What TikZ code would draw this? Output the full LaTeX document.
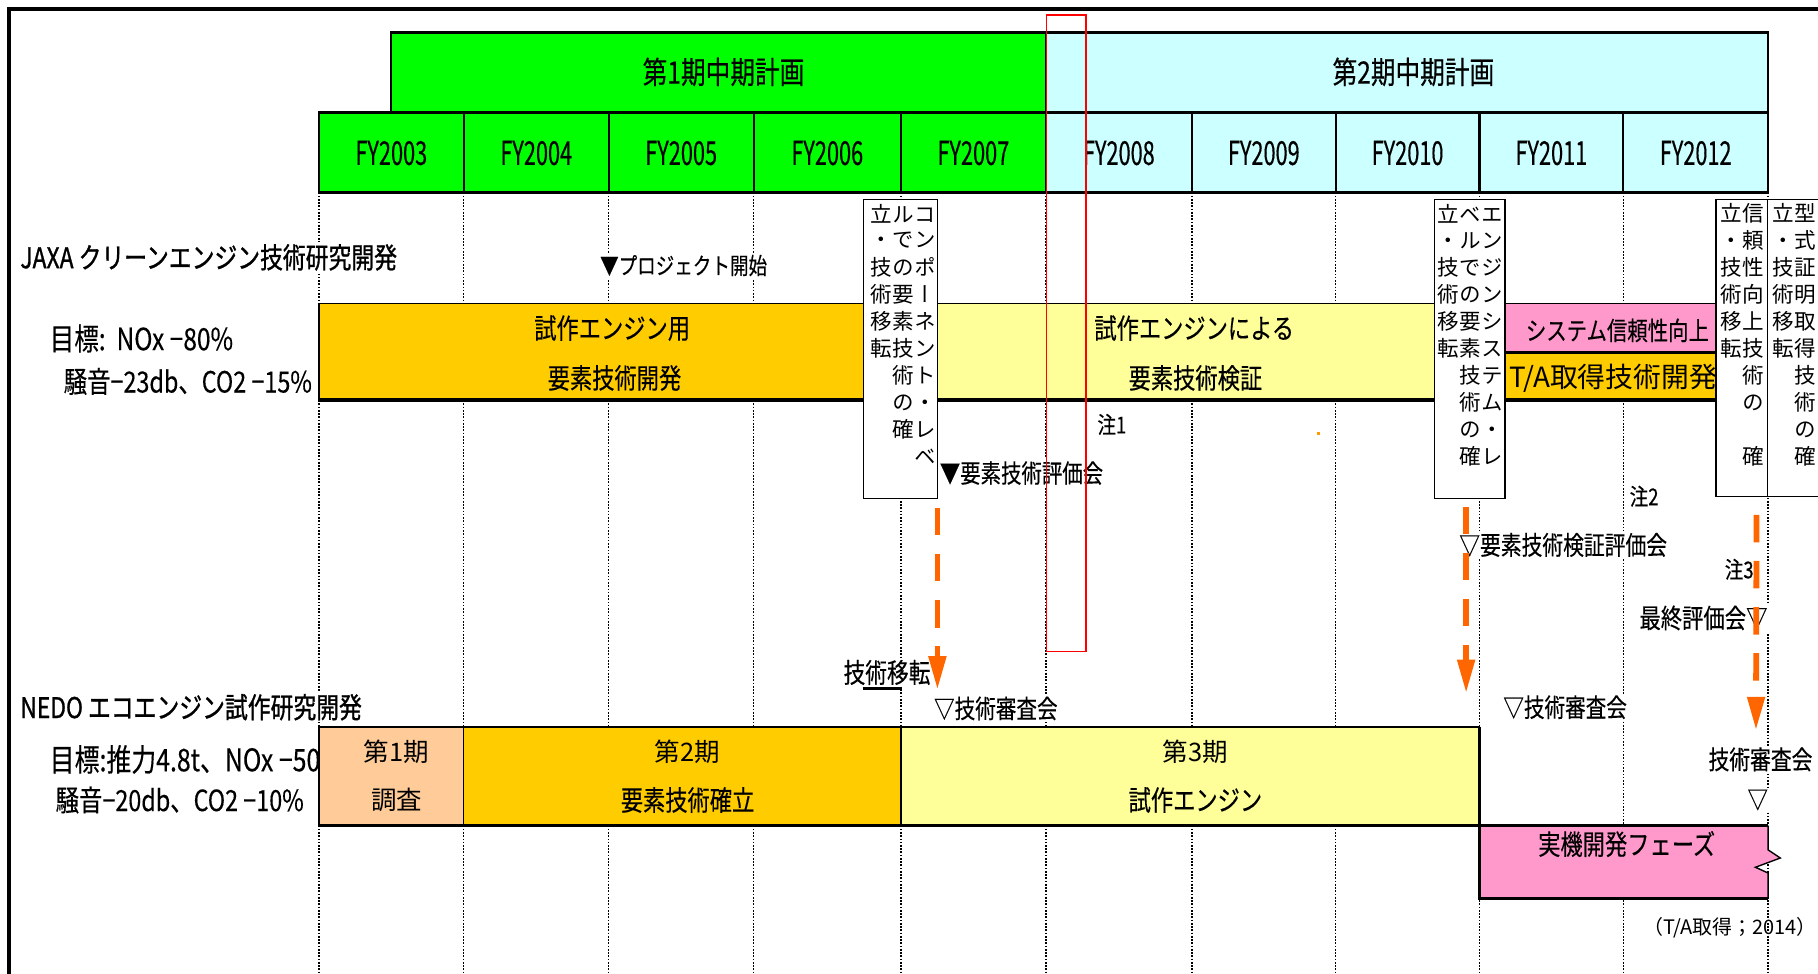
\documentclass[tikz,border=0pt]{standalone}
\usepackage{fontspec}
\newfontfamily\jc[FakeStretch=0.8,FakeBold=0.3]{Noto Sans CJK JP}
\newfontfamily\jcc[FakeStretch=0.66,FakeBold=0.3]{Noto Sans CJK JP}
\newfontfamily\jcb[FakeStretch=0.8,FakeBold=1.0]{Noto Sans CJK JP}
\newfontfamily\jn{Noto Sans CJK JP}
\newfontfamily\jv[RawFeature={+vert}]{Noto Sans CJK JP}
\usetikzlibrary{arrows.meta}
\newcommand\fsz[1]{\fontsize{#1}{#1}\selectfont}
\definecolor{cgreen}{HTML}{00FF00}
\definecolor{ccyan}{HTML}{CCFFFF}
\definecolor{corange}{HTML}{FFCC00}
\definecolor{cyellow}{HTML}{FFFF99}
\definecolor{cpink}{HTML}{FF99CC}
\definecolor{cpeach}{HTML}{FFCC99}
\definecolor{carrow}{HTML}{FF6600}
\definecolor{cdot}{HTML}{FF9900}
\definecolor{cred}{HTML}{FF0000}
\begin{document}
\begin{tikzpicture}[x=0.5pt,y=-0.5pt,
  every node/.style={inner sep=0pt,outer sep=0pt},
  lab/.style={fill=white,inner sep=0.8pt},
  btx/.style={font=\jc\fsz{12}},
  ptx/.style={font=\jn\fsz{11}},
  fy/.style={font=\jcc\fsz{14.2}},
  vtx/.style={font=\jv\fsz{9.3},anchor=east},
  vbox/.style={draw=black,fill=white,line width=0.6pt},
  gridl/.style={line width=0.6pt,dash pattern=on 0.7pt off 0.7pt},
  hl/.style={line width=0.9pt},
  tl/.style={line width=0.6pt},
  tk/.style={line width=1.5pt},
  arr/.style={draw=carrow,line width=2.5pt,dash pattern=on 11.85pt off 8.05pt,-{Triangle[length=14.5pt,width=7.2pt]}}
]
\useasboundingbox (0,0) rectangle (1568,840);
\clip (0,0) rectangle (1568,840);

% dotted year grid
\foreach \gx in {275,400,525,650,777,902,1028,1152,1276,1400,1525}
  \draw[gridl] (\gx,166) -- (\gx,840);

% period header
\draw[hl,fill=cgreen] (337,28) rectangle (902,97);
\draw[hl,fill=ccyan] (902,28) rectangle (1525,97);
\node[font=\jc\fsz{13.3}] (p1) at (624,62) {第1期中期計画};
\node[font=\jc\fsz{13.3}] (p2) at (1219,62) {第2期中期計画};

% fiscal years
\foreach \a/\b/\yr/\cc in {275/400/2003/cgreen,400/525/2004/cgreen,525/650/2005/cgreen,650/777/2006/cgreen,777/902/2007/cgreen,902/1028/2008/ccyan,1028/1152/2009/ccyan,1152/1276/2010/ccyan,1276/1400/2011/ccyan,1400/1525/2012/ccyan}{
  \draw[hl,fill=\cc] (\a,97) rectangle (\b,166);
  \node[fy] (fy\yr) at ({(\a+\b)/2},132) {FY\yr};
}

% goal texts (partly hidden under bars)
\node[anchor=west,font=\jc\fsz{13.2}] (jg1) at (43,292) {目標:\ \ NOx −80\%};
\node[anchor=west,font=\jc\fsz{12.6}] (jg2) at (55,329) {騒音−23db、CO2 −15\%};
\node[anchor=west,font=\jc\fsz{13.4}] (ng1) at (43,655) {目標:推力4.8t、NOx −50\%};
\node[anchor=west,font=\jc\fsz{12.6}] (ng2) at (48,690) {騒音−20db、CO2 −10\%};

% JAXA bars
\fill[corange] (275,262) rectangle (777,345);
\fill[cyellow] (777,262) rectangle (1298,345);
\fill[cpink] (1298,262) rectangle (1480,304);
\fill[corange] (1298,304) rectangle (1480,345);
\draw[tl] (275,345) -- (275,262) -- (1480,262);
\draw[line width=1.1pt] (1298,304) -- (1480,304);
\draw[tk] (275,345) -- (1480,345);
\node[btx] (j1a) at (528,283) {試作エンジン用};
\node[btx] (j1b) at (530,326) {要素技術開発};
\node[btx] (j2a) at (1030,283) {試作エンジンによる};
\node[btx] (j2b) at (1031,326) {要素技術検証};
\node[font=\jc\fsz{11}] (j3) at (1395,285) {システム信頼性向上};
\node[anchor=west,font=\jn\fsz{12}] (j4) at (1302,326) {T/A取得技術開発};

% NEDO bars
\fill[cpeach] (275,627) rectangle (400,712);
\fill[corange] (400,627) rectangle (777,712);
\fill[cyellow] (777,627) rectangle (1276,712);
\fill[cpink] (1276,712) -- (1525,712) -- (1525,733) -- (1535.5,740) -- (1514,748) -- (1525,753) -- (1525,775) -- (1276,775) -- cycle;
\draw[tl] (275,712) -- (275,627) -- (1276,627);
\draw[tl] (400,627) -- (400,712);
\draw[line width=1pt] (777,627) -- (777,712);
\draw[tl] (1525,712) -- (1525,733) -- (1535.5,740) -- (1514,748) -- (1525,753) -- (1525,775);
\draw[tk] (1276,627) -- (1276,775) -- (1525,775);
\draw[tk] (275,712) -- (1525,712);
\node[ptx] (b1a) at (342,648) {第1期};
\node[ptx] (b1b) at (342,690) {調査};
\node[ptx] (b2a) at (593,648) {第2期};
\node[btx] (b2b) at (593,690) {要素技術確立};
\node[ptx] (b3a) at (1031,648) {第3期};
\node[btx] (b3b) at (1031,690) {試作エンジン};
\node[btx] (b4) at (1403,728) {実機開発フェーズ};

% section titles and milestone labels
\node[lab,anchor=west,font=\jcb\fsz{12.3}] (jaxa) at (16,222) {JAXA クリーンエンジン技術研究開発};
\node[lab,anchor=west,font=\jcb\fsz{12.3}] (nedo) at (16,610) {NEDO エコエンジン試作研究開発};
\node[lab,anchor=west,font=\jc\fsz{10}] (pstart) at (516,229) {▼プロジェクト開始};
\node[lab,anchor=west,font=\jc\fsz{10}] (n1) at (945,366) {注1};
\fill[cdot] (1135.5,372.5) rectangle (1138.5,375.5);
\node[lab,anchor=west,font=\jc\fsz{11}] (ev1) at (809,408) {▼要素技術評価会};
\node[lab,anchor=west,font=\jc\fsz{10}] (n2) at (1404,428) {注2};
\node[lab,anchor=west,font=\jc\fsz{11.2}] (ev2) at (1257,470) {▽要素技術検証評価会};
\node[lab,anchor=west,font=\jc\fsz{10}] (n3) at (1486,491) {注3};
\node[lab,anchor=east,font=\jc\fsz{11.5}] (ev3) at (1526,533) {最終評価会▽};
\node[lab,anchor=west,font=\jc\fsz{11.7}] (tt) at (726,580) {技術移転};
\coordinate (ul1) at (744,594);
\coordinate (ul2) at (778,594);
\draw[line width=1.2pt] (ul1) -- (ul2);
\node[lab,anchor=west,font=\jc\fsz{11.1}] (rv1) at (804,611) {▽技術審査会};
\node[lab,anchor=west,font=\jc\fsz{11.1}] (rv2) at (1295,610) {▽技術審査会};
\node[lab,anchor=west,font=\jc\fsz{11.2}] (rv3) at (1472,655) {技術審査会};
\node[lab,font=\jc\fsz{11}] (rv3m) at (1516,690) {▽};
\node[anchor=east,font=\jn\fsz{8.6}] (ta) at (1567,800) {（T/A取得；2014）};

% vertical text boxes
\draw[vbox] (745,172) rectangle (808.5,430);
\foreach \t [count=\i] in {立ルコ,・でン,技のポ,術要ー,移素ネ,転技ン,術ト,の・,確レ,ベ}
  \node[vtx] (va\i) at (807,{184+23.3*(\i-1)}) {\t};
\draw[vbox] (1237,172) rectangle (1298,430);
\foreach \t [count=\i] in {立ベエ,・ルン,技でジ,術のン,移要シ,転素ス,技テ,術ム,の・,確レ}
  \node[vtx] (vb\i) at (1296,{184+23.3*(\i-1)}) {\t};
\draw[vbox] (1480,172) rectangle (1524.5,428);
\foreach \t [count=\i] in {立信,・頼,技性,術向,移上,転技,術,の,{},確}
  \node[vtx] (vc\i) at (1521.5,{184+23.3*(\i-1)}) {\t};
\draw[vbox] (1524.5,172) rectangle (1590,428);
\foreach \t [count=\i] in {立型,・式,技証,術明,移取,転得,技,術,の,確}
  \node[vtx] (vd\i) at (1566,{184+23.3*(\i-1)}) {\t};

% orange transfer arrows
\coordinate (a1s) at (808.5,438);
\coordinate (a1e) at (808.5,595);
\coordinate (a2s) at (1264.5,437);
\coordinate (a2e) at (1264.5,598);
\coordinate (a3s) at (1515,444);
\coordinate (a3e) at (1514.5,630);
\draw[arr] (a1s) -- (a1e);
\draw[arr] (a2s) -- (a2e);
\draw[arr] (a3s) -- (a3e);

% red highlight frame
\draw[cred,line width=0.65pt] (902.5,13) rectangle (936.5,562);

% outer frame
\draw[line width=1.7pt] (7.5,840) -- (7.5,7.5) -- (1568,7.5);
\end{tikzpicture}
\end{document}
